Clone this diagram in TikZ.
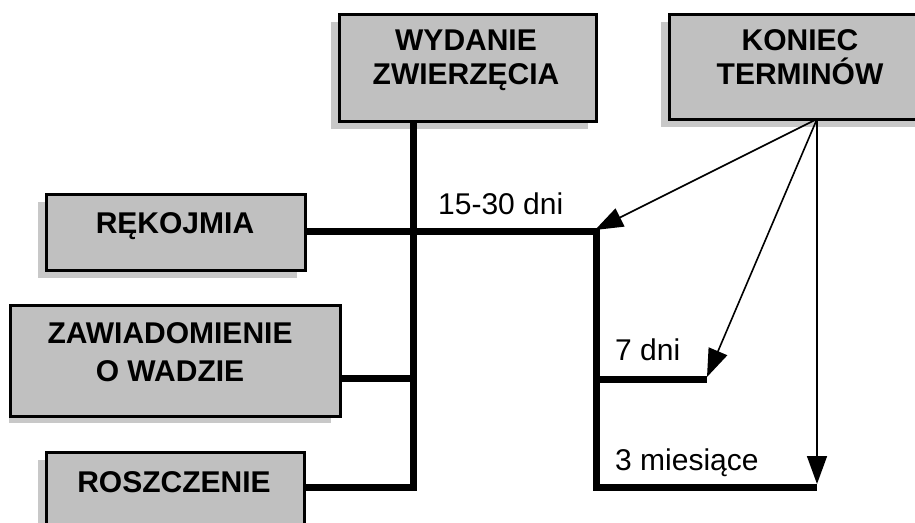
\documentclass[tikz,border=0pt]{standalone}
\usepackage{fontspec}
\setmainfont{Liberation Sans}
\usetikzlibrary{arrows.meta,backgrounds,shadows}
\definecolor{boxc}{HTML}{C0C0C0}
\definecolor{shadc}{HTML}{C8C8C8}
\begin{document}
\begin{tikzpicture}[x=1pt,y=-1pt,
  box/.style={draw=black,line width=2.5pt,fill=boxc,inner sep=0pt,anchor=north west,
    drop shadow={shadow xshift=-8pt,shadow yshift=-8pt,fill=shadc,opacity=1}},
  boxplain/.style={draw=black,line width=2.5pt,fill=boxc,inner sep=0pt,anchor=north west},
  btxt/.style={font=\fontsize{30}{34}\selectfont\bfseries,inner sep=0pt,anchor=base},
  ltxt/.style={font=\fontsize{30}{34}\selectfont,inner sep=0pt,anchor=base west},
  thick line/.style={line width=7pt,line join=miter},
  arr/.style={line width=1.6pt,-{Triangle[length=28pt,width=20pt]}}]
\useasboundingbox (0,0) rectangle (915,522);

% boxes
\node[box,minimum width=257,minimum height=107] (wyd) at (338,13) {};
\node[box,minimum width=264,minimum height=105] (kon) at (668,13) {};
\node[box,minimum width=259,minimum height=76] (rek) at (45,193) {};
\node[boxplain,minimum width=330,minimum height=111] (zaw) at (9,304) {};
\node[box,minimum width=258,minimum height=100] (ros) at (45,451) {};
\begin{scope}[on background layer]
  \fill[shadc] (9,312) rectangle (331,423);
\end{scope}

% box texts
\node[btxt] (wyd1) at (466,50) {WYDANIE};
\node[btxt] (wyd2) at (466,84) {ZWIERZĘCIA};
\node[btxt] (kon1) at (800,50) {KONIEC};
\node[btxt] (kon2) at (800,84) {TERMINÓW};
\node[btxt] (rek1) at (175,233) {RĘKOJMIA};
\node[btxt] (zaw1) at (170,343) {ZAWIADOMIENIE};
\node[btxt] (zaw2) at (170,381) {O WADZIE};
\node[btxt] (ros1) at (174,492) {ROSZCZENIE};

% connector coordinates
\coordinate (vtop) at (413,120);
\coordinate (vbot) at (413,487);
\coordinate (vzaw) at (413,378);
\coordinate (c1) at (596,231);
\coordinate (c2) at (596,487);
\coordinate (e7) at (707,379);
\coordinate (e3) at (817,487);
\coordinate (src) at (817,119);
\coordinate (t1) at (595,230);
\coordinate (t2) at (707,377);
\coordinate (t3) at (817,484);

% thick lines
\draw[thick line] (vtop) -- (vbot) -- (ros.east |- vbot);
\draw[thick line] (zaw.east |- vzaw) -- (vzaw);
\draw[thick line] (rek.east |- c1) -- (c1) -- (c2) -- (e3);
\draw[thick line] (596,379) -- (e7);

% labels
\node[ltxt] (l1) at (438,214) {15-30 dni};
\node[ltxt] (l2) at (615,360) {7 dni};
\node[ltxt] (l3) at (615,470) {3 miesiące};

% arrows
\draw[arr] (src) -- (t1);
\draw[arr] (src) -- (t2);
\draw[arr] (src) -- (t3);
\end{tikzpicture}
\end{document}
